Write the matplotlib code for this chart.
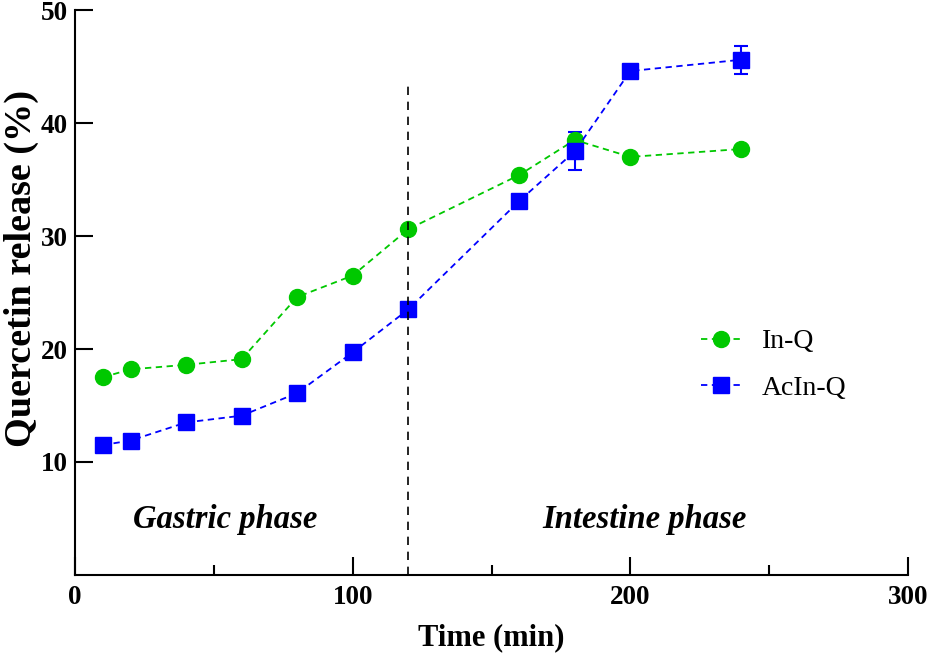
import matplotlib
matplotlib.use('Agg')
import matplotlib.pyplot as plt

plt.rcParams['font.family'] = 'Liberation Serif'

time = [10, 20, 40, 60, 80, 100, 120, 160, 180, 200, 240]
in_q = [17.5, 18.2, 18.6, 19.1, 24.6, 26.5, 30.6, 35.4, 38.5, 37.0, 37.7]
acin_q = [11.5, 11.9, 13.5, 14.1, 16.1, 19.7, 23.5, 33.1, 37.5, 44.6, 45.6]
acin_q_err = [0, 0, 0, 0, 0, 0, 0, 0, 1.7, 0, 1.25]

green = '#00c800'
blue = '#0000ff'

fig = plt.figure(figsize=(9.31, 6.54), dpi=100)
ax = fig.add_axes([0.0806, 0.1208, 0.8947, 0.8639])

ax.errorbar(time, acin_q, yerr=acin_q_err, fmt='none', ecolor=blue,
            capsize=5, elinewidth=1.5, capthick=1.5)
ax.plot(time, in_q, 'o--', color=green, markersize=11.5,
        linewidth=1.3, dashes=(3.5, 2.5), label='In-Q')
ax.plot(time, acin_q, 's--', color=blue, markersize=11,
        linewidth=1.3, dashes=(3.5, 2.5), label='AcIn-Q')

ax.plot([120, 120], [0, 43.3], color='black', linestyle=(0, (5, 4)), linewidth=1.2)

ax.text(54, 4.9, 'Gastric phase', fontsize=23.5, fontweight='bold',
        fontstyle='italic', ha='center', va='center')
ax.text(205, 4.9, 'Intestine phase', fontsize=23.5, fontweight='bold',
        fontstyle='italic', ha='center', va='center')

ax.set_xlim(0, 300)
ax.set_ylim(0, 50)
ax.set_xticks([0, 100, 200, 300])
ax.set_xticks([50, 150, 250], minor=True)
ax.set_yticks([10, 20, 30, 40, 50])
ax.spines['top'].set_visible(False)
ax.spines['right'].set_visible(False)
ax.spines['left'].set_linewidth(1.5)
ax.spines['bottom'].set_linewidth(1.5)
ax.tick_params(which='major', direction='in', length=13, width=1.5,
               labelsize=19.5)
ax.tick_params(axis='x', which='major', pad=7)
ax.tick_params(axis='y', which='major', pad=5)
ax.tick_params(which='minor', direction='in', length=7, width=1.5)
for lbl in ax.get_xticklabels() + ax.get_yticklabels():
    lbl.set_fontweight('bold')

ax.set_xlabel('Time (min)', fontsize=22, fontweight='bold', labelpad=10)
ax.set_ylabel('Quercetin release (%)', fontsize=27.5, fontweight='bold')
ax.yaxis.set_label_coords(-0.0435, 0.543)

ax.legend(loc='upper left', bbox_to_anchor=(0.721, 0.48), frameon=False,
          fontsize=20, handlelength=1.5, handletextpad=0.7, labelspacing=0.75)

plt.savefig('out.png', dpi=100)
